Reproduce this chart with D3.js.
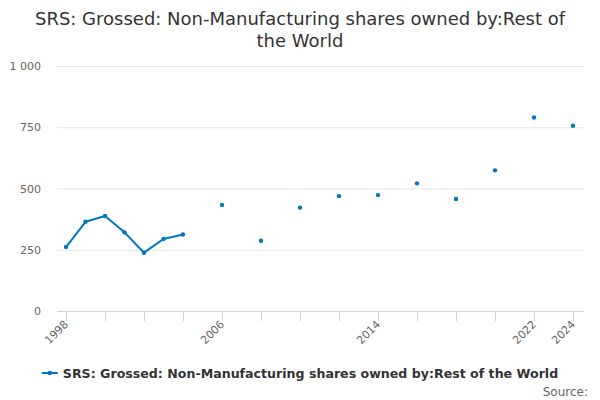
<!DOCTYPE html>
<html>
<head>
<meta charset="utf-8">
<script src="https://cdn.jsdelivr.net/npm/d3@7"></script>
<style>
  body { margin: 0; background: #fff; }
  text { font-family: "DejaVu Sans", sans-serif; }
</style>
</head>
<body>
<svg id="chart" width="600" height="400"></svg>
<script>
// data (null = no value that year)
var years = [1998, 1999, 2000, 2001, 2002, 2003, 2004, 2005, 2006, 2007, 2008, 2009, 2010, 2011,
             2012, 2013, 2014, 2015, 2016, 2017, 2018, 2019, 2020, 2021, 2022, 2023, 2024];
var values = [261, 364, 388, 321, 238, 294, 312, null, 433, null, 287, null, 422, null,
              469, null, 473, null, 521, null, 457, null, 574, null, 790, null, 756];
var yTicks = [0, 250, 500, 750, 1000];
var xLabelYears = [1998, 2006, 2014, 2022, 2024];
var titleLines = ["SRS: Grossed: Non-Manufacturing shares owned by:Rest of", "the World"];
var seriesName = "SRS: Grossed: Non-Manufacturing shares owned by:Rest of the World";

var color = "#0077c0";
var svg = d3.select("#chart");

var x = d3.scaleLinear().domain([1998, 2024]).range([66, 573]);
var y = d3.scaleLinear().domain([0, 1000]).range([311, 66]);
var left = 57, right = 584;

// title
svg.selectAll(".title").data(titleLines).enter().append("text")
    .attr("x", 300).attr("y", function(d, i) { return 25 + i * 22; })
    .attr("text-anchor", "middle").attr("font-size", 18).attr("fill", "#333")
    .text(function(d) { return d; });

// grid + y labels
var yAxis = d3.axisLeft(y).tickValues(yTicks).tickSize(-(right - left)).tickPadding(16)
    .tickFormat(function(d) { return d3.format(",")(d).replace(",", " "); });
var gy = svg.append("g").attr("transform", "translate(" + left + ",0)").call(yAxis);
gy.select(".domain").remove();
gy.selectAll("line").attr("stroke", "#e6e6e6");
gy.selectAll("text").attr("fill", "#666").attr("font-size", 11)
    .style("font-family", "DejaVu Sans, sans-serif");

// x axis
var ticks = d3.range(1998, 2025, 2);
var xAxis = d3.axisBottom(x).tickValues(ticks).tickSize(10).tickFormat("");
var gx = svg.append("g").attr("transform", "translate(0,311)").call(xAxis);
gx.select(".domain").attr("d", "M" + left + ",0.5H" + right).attr("stroke", "#ccd6eb");
gx.selectAll("line").attr("stroke", "#ccd6eb");

svg.selectAll(".xlab").data(xLabelYears).enter().append("text")
    .attr("transform", function(d) { return "translate(" + (x(d) + 3) + ",325) rotate(-45)"; })
    .attr("text-anchor", "end").attr("font-size", 11).attr("fill", "#666")
    .text(function(d) { return d; });

// series
var pts = years.map(function(yr, i) { return { year: yr, value: values[i] }; });
var line = d3.line()
    .defined(function(d) { return d.value !== null; })
    .x(function(d) { return x(d.year); })
    .y(function(d) { return y(d.value); });
svg.append("path").datum(pts).attr("d", line)
    .attr("fill", "none").attr("stroke", color).attr("stroke-width", 2)
    .attr("stroke-linejoin", "round").attr("stroke-linecap", "round");
svg.selectAll(".pt").data(pts.filter(function(d) { return d.value !== null; })).enter()
    .append("circle")
    .attr("cx", function(d) { return x(d.year); })
    .attr("cy", function(d) { return y(d.value); })
    .attr("r", 2.2).attr("fill", color);

// legend
var legend = svg.append("g");
legend.append("line").attr("x1", 0).attr("x2", 16).attr("y1", 0).attr("y2", 0)
    .attr("stroke", color).attr("stroke-width", 2);
legend.append("circle").attr("cx", 8).attr("cy", 0).attr("r", 2.2).attr("fill", color);
var lt = legend.append("text").attr("x", 21).attr("y", 4.5)
    .attr("font-size", 12.6).attr("font-weight", "bold").attr("fill", "#333").text(seriesName);
var lw = 21 + lt.node().getComputedTextLength();
legend.attr("transform", "translate(" + (300 - lw / 2) + ",373)");

// source
svg.append("text").attr("x", 588).attr("y", 396).attr("text-anchor", "end")
    .attr("font-size", 12).attr("fill", "#666").text("Source:");
</script>
</body>
</html>
